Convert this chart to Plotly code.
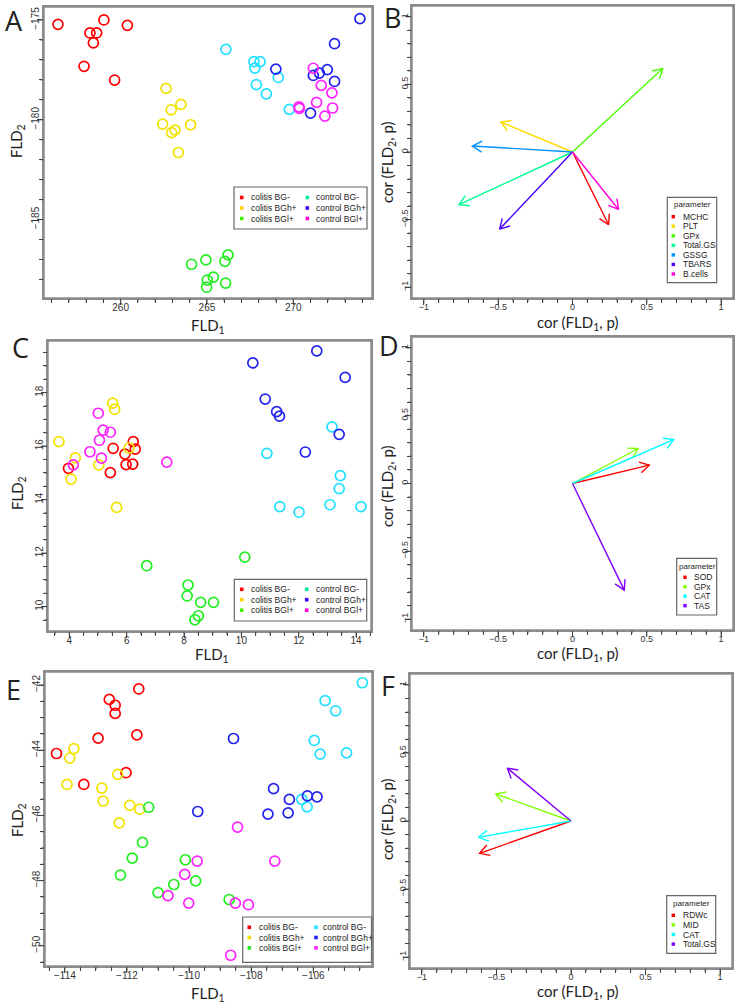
import math
import plotly.graph_objects as go

W, H = 739, 1005

# ---------------- data ----------------
GROUPS = ["colitis BG-", "colitis BGh+", "colitis BGl+", "control BG-", "control BGh+", "control BGl+"]
POINT_COLORS = ["#FF0000", "#F2E200", "#22EE22", "#22E0FF", "#2222EE", "#FF22FF"]
LEGEND_COLORS_AC = ["#FF0000", "#FFD000", "#44EE00", "#00EE99", "#4400EE", "#FF00DD"]
LEGEND_COLORS_E = ["#FF0000", "#F2E200", "#22EE22", "#22E0FF", "#2222EE", "#FF22FF"]

# Panel A
a_colitis_bgm_x = [256.37, 259.03, 260.39, 258.22, 258.61, 258.42, 257.88, 259.65]
a_colitis_bgm_y = [-175.22, -175.00, -175.27, -175.65, -175.65, -176.15, -177.32, -178.01]
a_colitis_bgh_x = [262.63, 263.49, 262.93, 262.43, 264.05, 263.15, 262.95, 263.34]
a_colitis_bgh_y = [-178.43, -179.23, -179.50, -180.22, -180.25, -180.52, -180.64, -181.64]
a_colitis_bgl_x = [266.22, 264.94, 264.11, 266.04, 265.37, 265.02, 264.98, 266.08]
a_colitis_bgl_y = [-186.77, -187.02, -187.24, -187.09, -187.88, -188.03, -188.39, -188.18]
a_control_bgm_x = [266.10, 267.72, 268.08, 267.78, 269.13, 267.86, 268.44, 269.77]
a_control_bgm_y = [-176.47, -177.09, -177.09, -177.41, -177.88, -178.24, -178.70, -179.48]
a_control_bgh_x = [273.86, 272.39, 268.99, 271.97, 271.51, 271.16, 272.39, 271.00]
a_control_bgh_y = [-174.93, -176.19, -177.46, -177.49, -177.66, -177.78, -178.08, -179.67]
a_control_bgl_x = [271.16, 271.62, 272.24, 271.35, 270.33, 270.35, 272.28, 271.83]
a_control_bgl_y = [-177.42, -178.28, -178.65, -179.13, -179.35, -179.43, -179.41, -179.82]

# Panel C
c_colitis_bgm_x = [6.23, 6.30, 5.53, 5.94, 5.98, 6.21, 3.97, 5.43]
c_colitis_bgm_y = [16.17, 15.89, 15.92, 15.70, 15.31, 15.33, 15.17, 15.01]
c_colitis_bgh_x = [5.51, 5.58, 3.64, 6.08, 4.21, 5.03, 4.06, 5.65]
c_colitis_bgh_y = [17.61, 17.38, 16.17, 15.93, 15.56, 15.30, 14.77, 13.71]
c_colitis_bgl_x = [6.70, 10.12, 8.14, 8.11, 8.58, 9.03, 8.50, 8.38]
c_colitis_bgl_y = [11.53, 11.85, 10.81, 10.40, 10.16, 10.16, 9.66, 9.51]
c_control_bgm_x = [13.16, 10.89, 13.45, 13.41, 13.09, 11.34, 12.01, 14.17]
c_control_bgm_y = [16.72, 15.73, 14.90, 14.41, 13.81, 13.74, 13.53, 13.74]
c_control_bgh_x = [12.63, 10.40, 13.62, 10.83, 11.23, 11.33, 13.41, 12.23]
c_control_bgh_y = [19.56, 19.11, 18.57, 17.76, 17.29, 17.12, 16.44, 15.78]
c_control_bgl_x = [5.01, 5.18, 5.43, 5.05, 4.72, 5.12, 4.14, 7.40]
c_control_bgl_y = [17.23, 16.60, 16.52, 16.22, 15.79, 15.55, 15.30, 15.40]

# Panel E
e_colitis_bgm_x = [-111.62, -112.57, -112.38, -112.38, -112.93, -111.68, -114.27, -112.03, -113.39]
e_colitis_bgm_y = [-42.12, -42.44, -42.62, -42.87, -43.63, -43.53, -44.10, -44.69, -45.05]
e_colitis_bgh_x = [-113.71, -113.84, -112.30, -113.93, -112.81, -112.77, -111.91, -111.59, -112.25]
e_colitis_bgh_y = [-43.95, -44.24, -44.74, -45.05, -45.16, -45.56, -45.69, -45.81, -46.23]
e_colitis_bgl_x = [-111.30, -111.50, -111.83, -112.21, -110.12, -109.79, -110.49, -111.00, -108.71]
e_colitis_bgl_y = [-45.75, -46.83, -47.31, -47.83, -47.36, -48.01, -48.12, -48.37, -48.58]
e_control_bgm_x = [-104.42, -105.62, -105.28, -105.97, -105.78, -104.93, -106.37, -106.20]
e_control_bgm_y = [-41.93, -42.48, -42.79, -43.70, -44.12, -44.08, -45.51, -45.74]
e_control_bgh_x = [-109.72, -108.57, -107.28, -106.77, -106.19, -105.88, -107.46, -106.81]
e_control_bgh_y = [-45.88, -43.64, -45.18, -45.51, -45.40, -45.43, -45.96, -45.92]
e_control_bgl_x = [-109.74, -110.14, -110.68, -110.01, -108.44, -107.24, -108.51, -108.09, -108.66]
e_control_bgl_y = [-47.40, -47.81, -48.46, -48.69, -46.36, -47.40, -48.69, -48.74, -50.29]

# Panel B (correlation arrows)
b_params = ["MCHC", "PLT", "GPx", "Total.GS", "GSSG", "TBARS", "B.cells"]
b_cor1 = [0.243, -0.483, 0.607, -0.764, -0.674, -0.490, 0.310]
b_cor2 = [-0.538, 0.222, 0.617, -0.390, 0.044, -0.570, -0.425]
b_colors = ["#FF0000", "#FFDB00", "#49FF00", "#00FF92", "#0092FF", "#4900FF", "#FF00DB"]

# Panel D
d_params = ["SOD", "GPx", "CAT", "TAS"]
d_cor1 = [0.517, 0.443, 0.681, 0.348]
d_cor2 = [0.135, 0.258, 0.324, -0.786]
d_colors = ["#FF0000", "#80FF00", "#00FFFF", "#8000FF"]

# Panel F
f_params = ["RDWc", "MID", "CAT", "Total.GS"]
f_cor1 = [-0.613, -0.506, -0.620, -0.427]
f_cor2 = [-0.238, 0.199, -0.120, 0.388]
f_colors = ["#FF0000", "#80FF00", "#00FFFF", "#8000FF"]

# ---------------- layout geometry (pixels) ----------------
panels = {
    # name: (left, top, right, bottom, xrange, yrange, xdtick, xminor, ydtick, yminor)
    "A": (44, 7, 372, 298, [255.56, 274.56], [-188.93, -174.35], 5, 1, 5, 1),
    "B": (412, 6, 733, 298, [-1.08, 1.08], [-1.08, 1.08], 0.5, 0.1, 0.5, 0.1),
    "C": (48, 341, 371, 631, [3.257, 14.52], [9.09, 19.93], 2, 0.5, 2, 0.5),
    "D": (412, 337, 733, 630, [-1.08, 1.08], [-1.08, 1.08], 0.5, 0.1, 0.5, 0.1),
    "E": (45, 672, 372, 966, [-114.64, -104.11], [-50.62, -41.60], 2, 0.5, 2, 0.5),
    "F": (410, 674, 732, 968, [-1.08, 1.08], [-1.08, 1.08], 0.5, 0.1, 0.5, 0.1),
}
order = ["A", "B", "C", "D", "E", "F"]


def px(x):
    return x / W


def py(y):
    return 1 - y / H


fig = go.Figure()
layout = dict(width=W, height=H, margin=dict(l=0, r=0, t=0, b=0, pad=0),
              paper_bgcolor="white", plot_bgcolor="white", showlegend=False)

FRAME = "#8c8c8c"
TICKC = "#444444"
axis_ids = {}
for i, name in enumerate(order):
    l, t, r, b, xr, yr, xd, xm, yd, ym = panels[name]
    sfx = "" if i == 0 else str(i + 1)
    axis_ids[name] = ("x" + sfx, "y" + sfx)
    small = name in ("B", "D", "F")
    tfont = dict(family="Liberation Sans, Arial", size=9 if small else 10, color="#333")
    common = dict(showline=True, mirror=True, linecolor=FRAME, linewidth=1.5,
                  ticks="outside", ticklen=5, tickcolor=TICKC,
                  showgrid=False, zeroline=False, tickfont=tfont, fixedrange=True,
                  ticklabelstandoff=-6)
    layout["xaxis" + sfx] = dict(
        domain=[px(l), px(r)], range=xr, anchor="y" + sfx, dtick=xd,
        minor=dict(ticks="outside", ticklen=3, dtick=xm),
        **common)
    layout["yaxis" + sfx] = dict(
        domain=[py(b), py(t)], range=yr, anchor="x" + sfx, dtick=yd, tickangle=-90,
        minor=dict(ticks="outside", ticklen=3, dtick=ym),
        **common)

# ---------------- scatter panels ----------------
scatter_sets = {
    "A": [(a_colitis_bgm_x, a_colitis_bgm_y), (a_colitis_bgh_x, a_colitis_bgh_y),
          (a_colitis_bgl_x, a_colitis_bgl_y), (a_control_bgm_x, a_control_bgm_y),
          (a_control_bgh_x, a_control_bgh_y), (a_control_bgl_x, a_control_bgl_y)],
    "C": [(c_colitis_bgm_x, c_colitis_bgm_y), (c_colitis_bgh_x, c_colitis_bgh_y),
          (c_colitis_bgl_x, c_colitis_bgl_y), (c_control_bgm_x, c_control_bgm_y),
          (c_control_bgh_x, c_control_bgh_y), (c_control_bgl_x, c_control_bgl_y)],
    "E": [(e_colitis_bgm_x, e_colitis_bgm_y), (e_colitis_bgh_x, e_colitis_bgh_y),
          (e_colitis_bgl_x, e_colitis_bgl_y), (e_control_bgm_x, e_control_bgm_y),
          (e_control_bgh_x, e_control_bgh_y), (e_control_bgl_x, e_control_bgl_y)],
}

for name, sets in scatter_sets.items():
    xa, ya = axis_ids[name]
    for g, (xs, ys) in enumerate(sets):
        fig.add_trace(go.Scatter(
            x=xs, y=ys, mode="markers", name=GROUPS[g], xaxis=xa, yaxis=ya,
            marker=dict(symbol="circle-open", size=10, color=POINT_COLORS[g],
                        line=dict(width=1.7, color=POINT_COLORS[g]))))

# ---------------- arrow panels ----------------
def add_arrows(name, params, c1, c2, colors):
    l, t, r, b, xr, yr = panels[name][:6]
    sx = (r - l) / (xr[1] - xr[0])
    sy = (b - t) / (yr[1] - yr[0])
    xa, ya = axis_ids[name]
    L = 11.0
    ang = math.radians(30)
    for p, tx, ty, col in zip(params, c1, c2, colors):
        th = math.atan2(ty * sy, tx * sx)
        xs = [0, tx, None]
        ys = [0, ty, None]
        barbs = []
        for s in (1, -1):
            a = th + math.pi + s * ang
            barbs.append((tx + L * math.cos(a) / sx, ty + L * math.sin(a) / sy))
        xs += [barbs[0][0], tx, barbs[1][0]]
        ys += [barbs[0][1], ty, barbs[1][1]]
        fig.add_trace(go.Scatter(x=xs, y=ys, mode="lines", name=p, xaxis=xa, yaxis=ya,
                                 line=dict(color=col, width=1.4)))


add_arrows("B", b_params, b_cor1, b_cor2, b_colors)
add_arrows("D", d_params, d_cor1, d_cor2, d_colors)
add_arrows("F", f_params, f_cor1, f_cor2, f_colors)

# ---------------- annotations & legends ----------------
annotations = []
shapes = []
TITLE_FONT = dict(family="Lato, Open Sans, sans-serif", size=15, color="#222")


def tick_values(lo, hi, step):
    k0 = math.ceil(lo / step - 1e-9)
    k1 = math.floor(hi / step + 1e-9)
    return [round(k * step, 10) for k in range(k0, k1 + 1)]


def is_major(v, d):
    q = v / d
    return abs(q - round(q)) < 1e-6


# frames and tick marks (bottom and left), placed in each subplot's domain units
for name in order:
    l, t, r, b, xr, yr, xd, xm, yd, ym = panels[name]
    xa, ya = axis_ids[name]
    xdom, ydom = xa + " domain", ya + " domain"
    pw, ph = r - l, b - t
    shapes.append(dict(type="rect", xref=xdom, yref=ydom,
                       x0=0, x1=1, y0=0, y1=1, line=dict(color=FRAME, width=1.5),
                       fillcolor="rgba(0,0,0,0)", layer="above"))
    for v in tick_values(xr[0], xr[1], xm):
        ln = 5 if is_major(v, xd) else 3
        fx = (v - xr[0]) / (xr[1] - xr[0])
        shapes.append(dict(type="line", xref=xdom, yref=ydom, x0=fx, x1=fx,
                           y0=-0.75 / ph, y1=-(0.75 + ln) / ph,
                           line=dict(color=TICKC, width=1)))
    for v in tick_values(yr[0], yr[1], ym):
        ln = 5 if is_major(v, yd) else 3
        fy = (v - yr[0]) / (yr[1] - yr[0])
        shapes.append(dict(type="line", xref=xdom, yref=ydom, y0=fy, y1=fy,
                           x0=-0.75 / pw, x1=-(0.75 + ln) / pw,
                           line=dict(color=TICKC, width=1)))


def text(x, y, s, size=None, font=None, angle=0, xanchor="center", yanchor="middle", color="#222"):
    f = dict(font or TITLE_FONT)
    if size:
        f["size"] = size
    f["color"] = color
    annotations.append(dict(x=px(x), y=py(y), xref="paper", yref="paper", text=s,
                            showarrow=False, font=f, textangle=angle,
                            xanchor=xanchor, yanchor=yanchor))


# Panel letters
LETTER_FONT = dict(family="Open Sans, Liberation Sans, sans-serif", size=27, color="#111")
for lab, x, y in [("A", 14, 20), ("B", 392, 18), ("C", 20, 347), ("D", 389, 345),
                  ("E", 13, 689), ("F", 388, 685)]:
    text(x, y, lab, font=LETTER_FONT)

# Axis titles
fld1 = "FLD<sub>1</sub>"
fld2 = "FLD<sub>2</sub>"
cor1 = "cor (FLD<sub>1</sub>, p)"
cor2 = "cor (FLD<sub>2</sub>, p)"
text(208, 326, fld1)
text(17, 141, fld2, angle=-90)
text(577, 323, cor1)
text(388, 163, cor2, angle=-90)
text(212, 655, fld1)
text(18, 493, fld2, angle=-90)
text(577, 654, cor1)
text(388, 487, cor2, angle=-90)
text(208, 994, fld1)
text(18, 820, fld2, angle=-90)
text(577, 992, cor1)
text(388, 820, cor2, angle=-90)

LEG_FONT = dict(family="Liberation Sans, Arial", size=8.5, color="#222")


def rect(x0, y0, x1, y1, line="#666", fill=None, width=1):
    shapes.append(dict(type="rect", xref="paper", yref="paper",
                       x0=px(x0), x1=px(x1), y0=py(y1), y1=py(y0),
                       line=dict(color=line, width=width),
                       fillcolor=fill if fill else "rgba(0,0,0,0)"))


def group_legend(box, sq_x, tx_x, rows, colors):
    rect(*box, line="#666", fill="white", width=1.2)
    for k in range(6):
        col, row = divmod(k, 3)
        yy = rows[row]
        s = 1.8
        rect(sq_x[col] - s, yy - s, sq_x[col] + s, yy + s, line=colors[k], fill=colors[k], width=0)
        text(tx_x[col], yy, GROUPS[k], font=LEG_FONT, xanchor="left")


group_legend((234, 187, 367, 229), (241.7, 307.3), (248.5, 313.5), (197.5, 208.0, 218.5), LEGEND_COLORS_AC)
group_legend((234.3, 579.3, 366.7, 621), (241.7, 306.7), (248.5, 313.5), (589.3, 599.7, 610.2), LEGEND_COLORS_AC)
group_legend((242.7, 917, 371.5, 962.3), (249.3, 316.0), (257.0, 320.5), (927.3, 937.5, 947.8), LEGEND_COLORS_E)

PAR_FONT = dict(family="Liberation Sans, Arial", size=8, color="#222")


def param_legend(box, title_xy, sq_x, tx_x, y0, step, params, colors):
    rect(*box, line="#666", fill="white", width=1.2)
    text(title_xy[0], title_xy[1], "parameter", font=PAR_FONT)
    for k, (p, c) in enumerate(zip(params, colors)):
        yy = y0 + k * step
        s = 1.7
        rect(sq_x - s, yy - s, sq_x + s, yy + s, line=c, fill=c, width=0)
        text(tx_x, yy, p, font=LEG_FONT, xanchor="left")


param_legend((667.3, 197.3, 716.7, 282.7), (692, 204), 673.3, 680.5, 216.7, 9.55, b_params, b_colors)
param_legend((676.7, 558.3, 716.7, 615), (697, 566), 685, 692.3, 577.3, 9.45, d_params, d_colors)
param_legend((666.7, 895.7, 715.7, 953.3), (691, 903.5), 673.3, 680.5, 915.3, 9.6, f_params, f_colors)

layout["annotations"] = annotations
layout["shapes"] = shapes
fig.update_layout(**layout)

fig.write_html("out.html", config={"displayModeBar": False},
               post_script="document.body.style.margin='0';document.body.style.overflow='hidden';")
